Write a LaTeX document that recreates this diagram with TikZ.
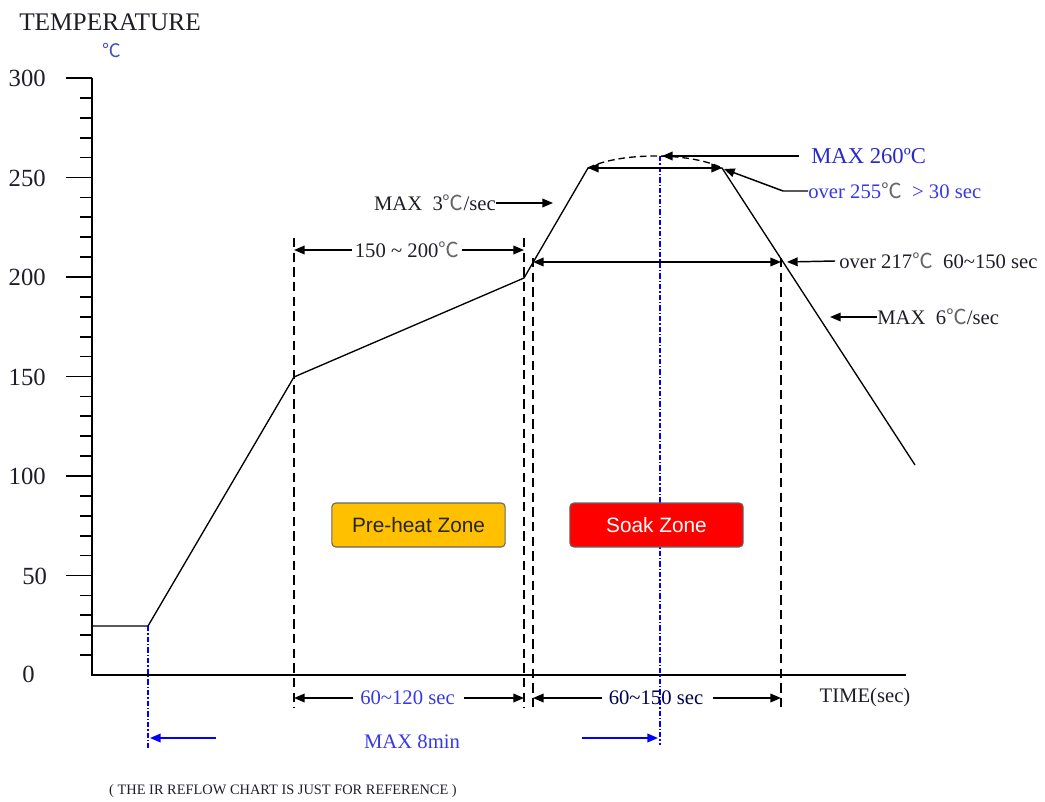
\documentclass[tikz,border=0pt]{standalone}
\usepackage{fontspec}
\setmainfont{Liberation Serif}
\newfontfamily\cjkfont{Noto Sans CJK SC}
\newfontfamily\arialfont{Liberation Sans}
\usetikzlibrary{arrows.meta}
\newcommand\dgc{{\cjkfont\color{gray!80!black}℃}}
\definecolor{lblue}{RGB}{55,55,235}
\definecolor{dblue}{RGB}{40,40,205}
\definecolor{zoneor}{RGB}{255,192,0}
\definecolor{zonered}{RGB}{255,0,0}
\definecolor{dtxt}{RGB}{30,30,40}
\begin{document}
\begin{tikzpicture}[x=0.75pt,y=-0.75pt,
  axis/.style={line width=1.3pt},
  curve/.style={line width=1pt},
  guide/.style={line width=1.1pt, dash pattern=on 7pt off 4pt},
  bluedd/.style={blue, line width=0.8pt, dash pattern=on 4pt off 1.5pt on 1pt off 1.5pt},
  dim/.style={line width=1.1pt, -{Triangle[length=8pt,width=6.5pt]}},
  ddim/.style={line width=1.1pt, {Triangle[length=8pt,width=6.5pt]}-{Triangle[length=8pt,width=6.5pt]}},
  bdim/.style={blue, line width=1.1pt, -{Triangle[length=8pt,width=6.5pt]}},
  lbl/.style={font=\fontsize{15.5}{17}\selectfont, inner sep=0pt, text=dtxt},
  blbl/.style={font=\fontsize{15.5}{17}\selectfont, inner sep=0pt, text=lblue},
  num/.style={font=\fontsize{18.5}{20}\selectfont, inner sep=0pt, text=dtxt},
  zone/.style={draw=black!60, line width=0.8pt, rounded corners=3pt, minimum width=130pt, minimum height=33pt, font=\arialfont\fontsize{15.6}{17}\selectfont}
]
\useasboundingbox (0,0) rectangle (1045,802);

% axes
\coordinate (ytop) at (92,78);
\coordinate (orig) at (92,675);
\coordinate (xend) at (906,675);
\draw[axis] (ytop) -- (orig) -- (xend);
\foreach \v in {1,...,30}{
  \pgfmathtruncatemacro{\maj}{mod(\v,5)==0 ? 1 : 0}
  \ifnum\maj=1
    \draw[axis] (92,675-\v*19.9) -- ++(-26,0);
  \else
    \draw[axis] (92,675-\v*19.9) -- ++(-12,0);
  \fi
}
\node[num, anchor=east] (y300) at (46,78) {300};
\node[num, anchor=east] (y250) at (46,178) {250};
\node[num, anchor=east] (y200) at (46,277) {200};
\node[num, anchor=east] (y150) at (46,377) {150};
\node[num, anchor=east] (y100) at (46,476) {100};
\node[num, anchor=west] (y50) at (22,576) {50};
\node[num, anchor=west] (y0) at (22,674) {0};

\node[font=\fontsize{19}{21}\selectfont, inner sep=0pt, anchor=west, text=dtxt] (title) at (19,22) {TEMPERATURE};
\node[font=\cjkfont\fontsize{14}{16}\selectfont, inner sep=0pt, text=gray!60!blue] (unit) at (112,51) {℃};

% profile curve
\coordinate (p0) at (92,626);
\coordinate (p1) at (148,626);
\coordinate (p2) at (294,377);
\coordinate (p3) at (524,278);
\coordinate (p4) at (588,168);
\coordinate (p5) at (722,168);
\coordinate (p6) at (915,465);
\draw[curve] (p0) -- (p1) -- (p2) -- (p3) -- (p4) -- (p5) -- (p6);
\draw[curve, dash pattern=on 5pt off 3pt] (p4) .. controls (620,152) and (690,152) .. (p5);

% dashed guides
\coordinate (g1t) at (294,238); \coordinate (g1b) at (294,708);
\coordinate (g2t) at (524,238); \coordinate (g2b) at (524,708);
\coordinate (g3t) at (533,258); \coordinate (g3b) at (533,710);
\coordinate (g4t) at (781,258); \coordinate (g4b) at (781,710);
\draw[guide] (g1t) -- (g1b);
\draw[guide] (g2t) -- (g2b);
\draw[guide] (g3t) -- (g3b);
\draw[guide] (g4t) -- (g4b);

% blue dash-dot lines
\coordinate (b1t) at (148,626); \coordinate (b1b) at (148,748);
\coordinate (b2t) at (660,156); \coordinate (b2b) at (660,745);
\draw[bluedd] (b1t) -- (b1b);
\draw[bluedd] (b2t) -- (b2b);

% zones
\node[zone, fill=zoneor, text=black!85] (pre) at (418.5,525) {Pre-heat Zone};
\node[zone, fill=zonered, text=white] (soak) at (656.5,525) {Soak Zone};

% 150~200
\node[lbl] (t150) at (407,250) {150 \char`~\ 200\dgc};
\coordinate (a150l) at (294,250); \coordinate (a150r) at (524,250);
\draw[dim] ([xshift=-2pt]t150.west) -- (a150l);
\draw[dim] ([xshift=2pt]t150.east) -- (a150r);

% MAX 3C/sec
\node[lbl, anchor=east] (t3) at (496,203) {MAX\ \ 3\dgc/sec};
\coordinate (a3) at (553,203);
\draw[dim] (t3.east) -- (a3);

% top arrows
\coordinate (h255l) at (588,168); \coordinate (h255r) at (722,168);
\draw[ddim] (h255l) -- (h255r);
\coordinate (h217l) at (533,262); \coordinate (h217r) at (781,262);
\draw[ddim] (h217l) -- (h217r);

% MAX 260
\node[lbl, text=dblue, anchor=west, font=\fontsize{17}{19}\selectfont] (t260) at (811,156) {MAX 260ºC};
\coordinate (l260) at (799,156); \coordinate (a260) at (662,156);
\draw[dim] (l260) -- (a260);

% over 255
\node[blbl, anchor=west] (t255) at (808,191) {over 255\dgc\ \ > 30 sec};
\coordinate (k255) at (783,191); \coordinate (a255) at (724,169);
\draw[dim] (t255.west) -- (k255) -- (a255);

% over 217
\node[lbl, anchor=west] (t217) at (839,261) {over 217\dgc\ \ 60\char`~150 sec};
\coordinate (a217) at (787,262);
\draw[dim] ([xshift=-3pt]t217.west) -- (a217);

% MAX 6
\node[lbl, anchor=west] (t6) at (877,317) {MAX\ \ 6\dgc/sec};
\coordinate (a6) at (830,317);
\draw[dim] (t6.west) -- (a6);

% bottom dimensions
\node[blbl] (t120) at (407.5,698) {60\char`~120 sec};
\coordinate (a120l) at (294,698); \coordinate (a120r) at (524,698);
\draw[dim] ([xshift=-5pt]t120.west) -- (a120l);
\draw[dim] ([xshift=7pt]t120.east) -- (a120r);

\node[lbl, text=black!70!blue] (t150s) at (656,698) {60\char`~150 sec};
\coordinate (a150sl) at (533,698); \coordinate (a150sr) at (781,698);
\draw[dim] ([xshift=-5pt]t150s.west) -- (a150sl);
\draw[dim] ([xshift=7pt]t150s.east) -- (a150sr);

\node[lbl] (time) at (865,698) {TIME(sec)};

% MAX 8 min
\node[blbl] (t8) at (412,742) {MAX 8min};
\coordinate (m1s) at (216,738); \coordinate (m1e) at (150,738);
\coordinate (m2s) at (582,738); \coordinate (m2e) at (658,738);
\draw[bdim] (m1s) -- (m1e);
\draw[bdim] (m2s) -- (m2e);

% footer
\node[font=\fontsize{10.8}{12}\selectfont, inner sep=0pt, text=dtxt] (foot) at (283,791) {( THE IR REFLOW CHART IS JUST FOR REFERENCE )};
\end{tikzpicture}
\end{document}
